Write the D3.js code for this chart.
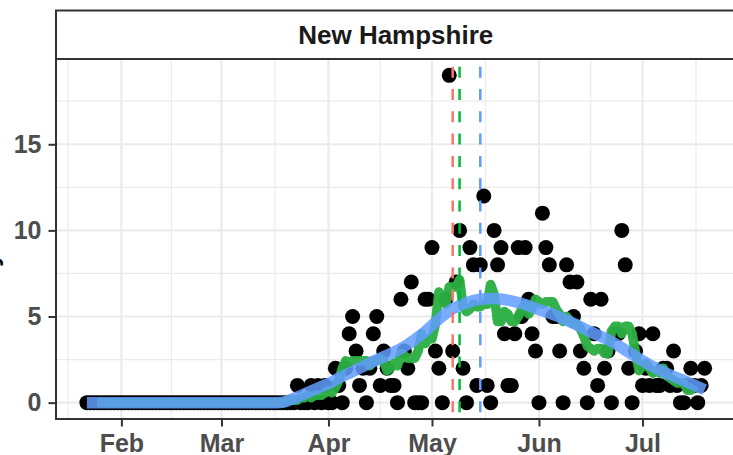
<!DOCTYPE html>
<html>
<head>
<meta charset="utf-8">
<script src="https://cdn.jsdelivr.net/npm/d3@7"></script>
<style>
  body { margin: 0; background: #fff; }
  svg { display: block; font-family: 'Liberation Sans', Arial, sans-serif; }
</style>
</head>
<body>
<div id="chart"></div>
<script>
const stateName = 'New Hampshire'
const yTitle = 'Daily deaths'
const firstDay = '2020-01-22'

// one value per day from Jan 22 to Jul 19
const deaths = [
  0, 0, 0, 0, 0, 0, 0, 0, 0, 0,
  0, 0, 0, 0, 0, 0, 0, 0, 0, 0,
  0, 0, 0, 0, 0, 0, 0, 0, 0, 0,
  0, 0, 0, 0, 0, 0, 0, 0, 0, 0,
  0, 0, 0, 0, 0, 0, 0, 0, 0, 0,
  0, 0, 0, 0, 0, 0, 0, 0, 0, 0,
  0, 1, 0, 0, 0, 1, 0, 1, 0, 1,
  0, 0, 2, 1, 0, 2, 4, 5, 3, 1,
  2, 0, 2, 4, 5, 1, 3, 2, 1, 1,
  0, 6, 3, 2, 7, 0, 0, 0, 6, 6,
  9, 3, 2, 0, 6, 19, 3, 7, 10, 2,
  0, 9, 8, 1, 8, 12, 1, 0, 10, 8,
  9, 4, 1, 1, 4, 9, 5, 9, 6, 4,
  3, 0, 11, 9, 8, 5, 5, 3, 0, 8,
  7, 5, 7, 3, 2, 0, 6, 4, 1, 6,
  2, 3, 0, 4, 4, 10, 8, 2, 0, 3,
  4, 1, 2, 1, 4, 1, 1, 2, 2, 1,
  3, 1, 0, 0, 1, 2, 1, 0, 1, 2
]

// trend curve (day index from Jan 22, value)
const trendDay = [0, 55, 57, 60, 63, 67, 70, 73, 77, 82, 87, 92, 97, 102, 106,
  110, 114, 118, 122, 126, 131, 136, 141, 146, 152, 158, 163, 168, 174, 179]
const trendValue = [0, 0, 0.03, 0.25, 0.5, 0.85, 1.1, 1.43, 1.8, 2.3, 2.75, 3.25,
  3.95, 4.85, 5.45, 5.8, 6.0, 6.05, 5.95, 5.75, 5.4, 5.05, 4.6, 4.1, 3.55, 2.8,
  2.2, 1.7, 1.2, 0.75]

const monthTicks = ['2020-02-01', '2020-03-01', '2020-04-01', '2020-05-01', '2020-06-01', '2020-07-01']
const monthLabels = ['Feb', 'Mar', 'Apr', 'May', 'Jun', 'Jul']
const yTicks = [0, 5, 10, 15]
const yMinor = [2.5, 7.5, 12.5, 17.5]

const peakDates = ['2020-05-07', '2020-05-09', '2020-05-15']
const peakColors = ['#F8766D', '#00BA38', '#619CFF']

const width = 733
const height = 455
const panelLeft = 56
const panelRight = 735.5
const panelTop = 59
const panelBottom = 419
const stripTop = 10.5

const parseDay = d3.utcParse('%Y-%m-%d')
const start = parseDay(firstDay)
const dates = deaths.map((_, i) => d3.utcDay.offset(start, i))
const points = deaths.map((v, i) => ({ date: dates[i], value: v }))

const span = dates[dates.length - 1] - dates[0]
const xScale = d3
  .scaleUtc()
  .domain([new Date(+dates[0] - span * 0.05), new Date(+dates[dates.length - 1] + span * 0.05)])
  .range([panelLeft, panelRight])

const maxV = d3.max(deaths)
const yScale = d3
  .scaleLinear()
  .domain([-0.05 * maxV, maxV * 1.05])
  .range([panelBottom, panelTop])

// 7 day centred average
const avg = deaths.map((d, i) =>
  i < 3 || i > deaths.length - 4 ? null : d3.mean(deaths.slice(i - 3, i + 4))
)
const avgPoints = avg.map((v, i) => ({ date: dates[i], value: v }))
const trend = trendDay.map((d, i) => ({ date: d3.utcDay.offset(start, d), value: trendValue[i] }))

const svg = d3
  .select('#chart')
  .append('svg')
  .attr('width', width)
  .attr('height', height)

// grid
const majorX = monthTicks.map(parseDay)
const allMonths = [d3.utcMonth.offset(majorX[0], -1), ...majorX, d3.utcMonth.offset(majorX[majorX.length - 1], 1)]
const minorX = d3.pairs(allMonths).map(([a, b]) => new Date((+a + +b) / 2))

const grid = svg.append('g')
grid
  .selectAll('.minor-y')
  .data(yMinor)
  .enter()
  .append('line')
  .attr('x1', panelLeft)
  .attr('x2', panelRight)
  .attr('y1', (d) => yScale(d))
  .attr('y2', (d) => yScale(d))
  .attr('stroke', '#EBEBEB')
  .attr('stroke-width', 1.2)
grid
  .selectAll('.minor-x')
  .data(minorX)
  .enter()
  .append('line')
  .attr('x1', (d) => xScale(d))
  .attr('x2', (d) => xScale(d))
  .attr('y1', panelTop)
  .attr('y2', panelBottom)
  .attr('stroke', '#EBEBEB')
  .attr('stroke-width', 1.2)
grid
  .selectAll('.major-y')
  .data(yTicks)
  .enter()
  .append('line')
  .attr('x1', panelLeft)
  .attr('x2', panelRight)
  .attr('y1', (d) => yScale(d))
  .attr('y2', (d) => yScale(d))
  .attr('stroke', '#EBEBEB')
  .attr('stroke-width', 2.2)
grid
  .selectAll('.major-x')
  .data(majorX)
  .enter()
  .append('line')
  .attr('x1', (d) => xScale(d))
  .attr('x2', (d) => xScale(d))
  .attr('y1', panelTop)
  .attr('y2', panelBottom)
  .attr('stroke', '#EBEBEB')
  .attr('stroke-width', 2.2)

// points
svg
  .append('g')
  .selectAll('circle')
  .data(points)
  .enter()
  .append('circle')
  .attr('cx', (d) => xScale(d.date))
  .attr('cy', (d) => yScale(d.value))
  .attr('r', 7.5)
  .attr('fill', '#000')

const line = d3
  .line()
  .defined((d) => d.value != null)
  .x((d) => xScale(d.date))
  .y((d) => yScale(d.value))

svg
  .append('path')
  .datum(avgPoints)
  .attr('d', line)
  .attr('fill', 'none')
  .attr('stroke', '#F8766D')
  .attr('stroke-opacity', 0.8)
  .attr('stroke-width', 9)
  .attr('stroke-linejoin', 'round')

svg
  .append('path')
  .datum(avgPoints)
  .attr('d', line)
  .attr('fill', 'none')
  .attr('stroke', '#00BA38')
  .attr('stroke-opacity', 0.8)
  .attr('stroke-width', 9.5)
  .attr('stroke-linejoin', 'round')

svg
  .append('path')
  .datum(trend)
  .attr('d', line.curve(d3.curveMonotoneX))
  .attr('fill', 'none')
  .attr('stroke', '#619CFF')
  .attr('stroke-opacity', 0.85)
  .attr('stroke-width', 11.5)

// peak markers
svg
  .selectAll('.peak')
  .data(peakDates)
  .enter()
  .append('line')
  .attr('x1', (d) => xScale(parseDay(d)))
  .attr('x2', (d) => xScale(parseDay(d)))
  .attr('y1', panelTop)
  .attr('y2', panelBottom)
  .attr('stroke', (d, i) => peakColors[i])
  .attr('stroke-width', 2.5)
  .attr('stroke-dasharray', '11,11.3')
  .attr('stroke-dashoffset', 14.6)

// panel border + strip
svg
  .append('rect')
  .attr('x', panelLeft)
  .attr('y', panelTop)
  .attr('width', panelRight - panelLeft)
  .attr('height', panelBottom - panelTop)
  .attr('fill', 'none')
  .attr('stroke', '#333333')
  .attr('stroke-width', 2)

svg
  .append('rect')
  .attr('x', panelLeft)
  .attr('y', stripTop)
  .attr('width', panelRight - panelLeft)
  .attr('height', panelTop - stripTop)
  .attr('fill', '#fff')
  .attr('stroke', '#333333')
  .attr('stroke-width', 2)

svg
  .append('text')
  .attr('x', (panelLeft + panelRight) / 2)
  .attr('y', (stripTop + panelTop) / 2)
  .attr('text-anchor', 'middle')
  .attr('dominant-baseline', 'central')
  .style('font-size', '26px')
  .style('font-weight', 'bold')
  .attr('fill', '#1A1A1A')
  .text(stateName)

// axes
const yAxis = svg
  .append('g')
  .attr('transform', 'translate(' + (panelLeft - 1) + ',0)')
  .call(d3.axisLeft(yScale).tickValues(yTicks).tickSize(6.5).tickPadding(7))
const xAxis = svg
  .append('g')
  .attr('transform', 'translate(0,' + (panelBottom + 1) + ')')
  .call(
    d3
      .axisBottom(xScale)
      .tickValues(majorX)
      .tickFormat((d, i) => monthLabels[i])
      .tickSize(6.5)
      .tickPadding(7.5)
  )

for (const axis of [xAxis, yAxis]) {
  axis.select('.domain').remove()
  axis.selectAll('line').attr('stroke', '#333333').attr('stroke-width', 2)
  axis
    .selectAll('text')
    .attr('fill', '#4D4D4D')
    .style('font-size', '25px')
    .style('font-weight', 'bold')
    .style('font-family', "'Liberation Sans', Arial, sans-serif")
}

// axis title sits mostly outside the frame, only its lower edge shows
svg
  .append('text')
  .attr('transform', 'translate(-2,' + (panelTop + panelBottom) / 2 + ') rotate(-90)')
  .attr('text-anchor', 'middle')
  .style('font-size', '25px')
  .style('font-weight', 'bold')
  .attr('fill', '#000')
  .text(yTitle)
</script>
</body>
</html>
